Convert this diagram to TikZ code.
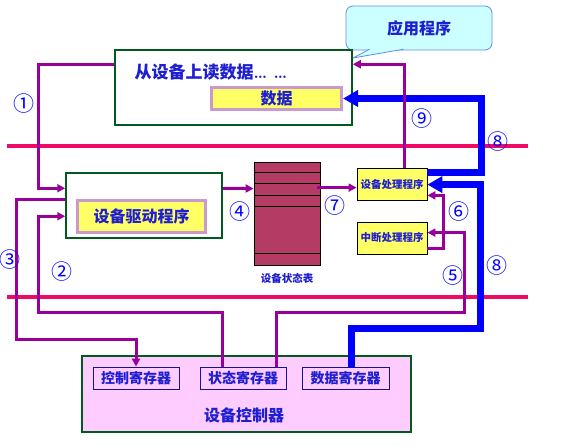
\documentclass[tikz,border=0pt]{standalone}
\usepackage{fontspec}
\newfontfamily\cjk{Noto Sans CJK SC}
\usetikzlibrary{arrows.meta,calc}
\definecolor{flowpurple}{RGB}{153,0,153}
\definecolor{boundpink}{RGB}{240,10,100}
\definecolor{textblue}{RGB}{30,30,210}
\definecolor{boxgreen}{RGB}{0,90,30}
\definecolor{tablered}{RGB}{180,60,100}
\definecolor{innerframe}{RGB}{204,153,204}
\definecolor{noteyellow}{RGB}{255,255,102}
\definecolor{ctrlpink}{RGB}{255,204,255}
\definecolor{calloutcyan}{RGB}{204,255,255}
\definecolor{calloutedge}{RGB}{100,140,230}
\definecolor{regblue}{RGB}{20,20,140}
\begin{document}
\begin{tikzpicture}[x=1pt,y=1pt,yscale=-1,
		outerbox/.style={draw=boxgreen, line width=1.5pt, inner sep=0pt},
		labelbox/.style={draw=innerframe, line width=3pt, fill=noteyellow, text=textblue, font=\cjk\bfseries\fontsize{16}{16}\selectfont},
		handlerbox/.style={draw=black, line width=0.8pt, fill=noteyellow, minimum width=70pt, minimum height=32pt, inner sep=1pt, text=textblue, font=\cjk\bfseries\fontsize{10.5}{11}\selectfont},
		regbox/.style={draw=regblue, line width=0.8pt, minimum width=86pt, minimum height=22pt, text=textblue, font=\cjk\bfseries\fontsize{14}{14}\selectfont},
		flow/.style={draw=flowpurple, line width=3pt, -{Triangle[length=8pt,width=8pt]}},
		dataflow/.style={draw=blue, line width=7pt, -{Triangle[length=15pt,width=16pt]}},
		bound/.style={draw=boundpink, line width=4pt},
		stepno/.style={text=blue, inner sep=0pt, font=\cjk\fontsize{21}{21}\selectfont}]
		\useasboundingbox (0,0) rectangle (572,447);

		% Draw the two pink boundary lines
		\draw[bound] (7,146) -- (528,146);
		\draw[bound] (7,297) -- (528,297);

		% The callout "应用程序" with its tail
		\node[draw=calloutedge, fill=calloutcyan, line width=0.8pt, rounded corners=7pt, minimum width=146pt, minimum height=44pt, text=textblue, font=\cjk\bfseries\fontsize{16}{16}\selectfont] (app) at (419,28) {应用程序};
		\coordinate (apptip) at (353,58);
		\draw[calloutedge, fill=calloutcyan, line width=0.8pt] ($(app.south west)+(24,-1.2)$) -- (apptip) -- ($(app.south west)+(58,-1.2)$);

		% The box of the reading program and its data field
		\node[outerbox, minimum width=237pt, minimum height=75pt] (readbox) at (233.5,87.5) {};
		\node[anchor=west, text=textblue, font=\cjk\bfseries\fontsize{17}{17}\selectfont] (readtext) at (131,72) {从设备上读数据{\normalfont\bfseries\ldots\ \ldots}};
		\node[labelbox, minimum width=130pt, minimum height=20pt] (databox) at (276.5,98.5) {数据};

		% The box of the device driver
		\node[outerbox, minimum width=156pt, minimum height=65pt] (drvbox) at (144,205.5) {};
		\node[labelbox, minimum width=128pt, minimum height=32pt] (drvinner) at (141.5,216.5) {设备驱动程序};

		% The device status table
		\node[draw=black, fill=tablered, line width=0.8pt, minimum width=66pt, minimum height=103pt] (table) at (287,213.5) {};
		\foreach \y in {11,22,34,45,92}
		\draw[line width=0.8pt] ($(table.north west)+(0,\y)$) -- ($(table.north east)+(0,\y)$);
		\node[text=textblue, font=\cjk\bfseries\fontsize{10.5}{11}\selectfont] (tablelabel) at (287,278) {设备状态表};

		% The two handlers
		\node[handlerbox] (devh) at (392,184) {设备处理程序};
		\node[handlerbox] (inth) at (392,238) {中断处理程序};

		% The device controller and its registers
		\node[draw=boxgreen, fill=ctrlpink, line width=1.5pt, minimum width=329pt, minimum height=76pt] (ctrl) at (246.5,394) {};
		\node[regbox] (reg1) at (136,378) {控制寄存器};
		\node[regbox] (reg2) at (243,378) {状态寄存器};
		\node[regbox, minimum width=87pt] (reg3) at (345.5,378) {数据寄存器};
		\node[text=textblue, font=\cjk\bfseries\fontsize{16}{16}\selectfont] (ctrllabel) at (244,415) {设备控制器};

		% The blue data paths (8)
		\draw[dataflow] ($(devh.north east)+(0,5)$) -| ($(databox.east)+(138,0)$) -- (databox.east);
		\draw[dataflow] ($(reg3.north)+(5.5,0)$) -- ++(0,-38) -| ($(devh.north east)+(53,17)$) -- ($(devh.north east)+(0,17)$);

		% The purple control paths
		\draw[flow] ($(readbox.north west)+(0,15)$) -| ($(drvbox.north west)+(-27,16)$) -- ($(drvbox.north west)+(0,16)$);
		\draw[flow] ($(drvbox.north west)+(0,27)$) -- ++(-49,0) |- ($(reg1.north)+(0,-27)$) -- (reg1.north);
		\draw[flow] ($(reg2.north)+(-21,0)$) -- ++(0,-54) -| ($(drvbox.north west)+(-27,44)$) -- ($(drvbox.north west)+(0,44)$);
		\draw[flow] ($(drvbox.north east)+(0,16)$) -- ($(table.north west)+(0,27)$);
		\draw[flow] ($(table.north east)+(-3,26)$) -- ($(devh.north west)+(0,20)$);
		\draw[flow] ($(reg2.north)+(33,0)$) -- ++(0,-54) -| ($(inth.north east)+(37,11)$) -- ($(inth.north east)+(0,11)$);
		\draw[flow] ($(inth.south east)+(0,-6)$) -- ++(16,0) |- ($(devh.south east)+(0,-5)$);
		\draw[flow] ($(devh.north west)+(48,0)$) |- ($(readbox.north east)+(0,15)$);

		% The step numbers
		\node[stepno] (s1) at (24,104) {①};
		\node[stepno] (s2) at (62,272) {②};
		\node[stepno] (s3) at (9.5,260) {③};
		\node[stepno] (s4) at (240,212) {④};
		\node[stepno] (s5) at (453,276) {⑤};
		\node[stepno] (s6) at (459,212) {⑥};
		\node[stepno] (s7) at (335,206) {⑦};
		\node[stepno] (s8a) at (498,142) {⑧};
		\node[stepno] (s8b) at (497,266) {⑧};
		\node[stepno] (s9) at (422,119) {⑨};
	\end{tikzpicture}
\end{document}
